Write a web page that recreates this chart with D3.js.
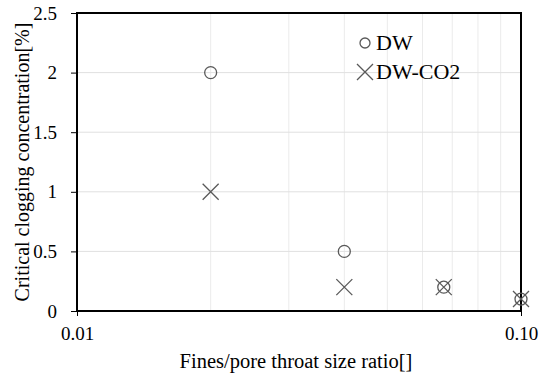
<!DOCTYPE html>
<html>
<head>
<meta charset="utf-8">
<script src="https://cdn.jsdelivr.net/npm/d3@7"></script>
<style>
  body { margin: 0; background: #fff; }
  svg text { font-family: "Liberation Serif", "Times New Roman", serif; fill: #000; }
</style>
</head>
<body>
<div id="chart"></div>
<script>
// data
var ratioDW = [0.02, 0.04, 0.067, 0.1];
var concDW = [2, 0.5, 0.2, 0.1];
var ratioCO2 = [0.02, 0.04, 0.067, 0.1];
var concCO2 = [1, 0.2, 0.2, 0.1];
var yTicks = [0, 0.5, 1, 1.5, 2, 2.5];
var xTickLabels = ["0.01", "0.10"];
var seriesNames = ["DW", "DW-CO2"];

var width = 544, height = 380;
var margin = {left: 77, right: 23, top: 13, bottom: 69};
var serif = "'Liberation Serif', 'Times New Roman', serif";

var svg = d3.select("#chart").append("svg")
    .attr("width", width)
    .attr("height", height);

var x = d3.scaleLog().domain([0.01, 0.1]).range([margin.left, width - margin.right]);
var y = d3.scaleLinear().domain([0, 2.5]).range([height - margin.bottom, margin.top]);

var markColor = "#595959";

// grid
var minor = d3.range(2, 10).map(function (d) { return d / 100; });
svg.append("g").selectAll("line.vg")
    .data(minor)
    .enter().append("line")
    .attr("x1", function (d) { return x(d); })
    .attr("x2", function (d) { return x(d); })
    .attr("y1", y(0))
    .attr("y2", y(2.5))
    .style("stroke", "#ebebeb")
    .style("stroke-width", 1);

svg.append("g").selectAll("line.hg")
    .data(yTicks.slice(1, -1))
    .enter().append("line")
    .attr("x1", x(0.01))
    .attr("x2", x(0.1))
    .attr("y1", function (d) { return y(d); })
    .attr("y2", function (d) { return y(d); })
    .style("stroke", "#e0e0e0")
    .style("stroke-width", 1);

// axes
var yAxis = d3.axisLeft(y).tickValues(yTicks).tickSize(6).tickPadding(14)
    .tickFormat(function (d) { return String(d); });
var gy = svg.append("g").attr("transform", "translate(" + margin.left + ",0)").call(yAxis)
    .attr("font-family", serif);
gy.select(".domain").remove();
gy.selectAll("line").style("stroke", "#000").style("stroke-width", 1);
gy.selectAll("text").style("font-size", "19px");

var xAxis = d3.axisBottom(x).tickValues([0.01, 0.1]).tickSize(5).tickPadding(11)
    .tickFormat(function (d, i) { return xTickLabels[i]; });
var gx = svg.append("g").attr("transform", "translate(0," + y(0) + ")").call(xAxis)
    .attr("font-family", serif);
gx.select(".domain").remove();
gx.selectAll("line").style("stroke", "#000").style("stroke-width", 1);
gx.selectAll("text").style("font-size", "19px");

// frame
svg.append("rect")
    .attr("x", x(0.01))
    .attr("y", y(2.5))
    .attr("width", x(0.1) - x(0.01))
    .attr("height", y(0) - y(2.5))
    .style("fill", "none")
    .style("stroke", "#000")
    .style("stroke-width", 2);

// markers
function crossPath(cx, cy, s) {
    return "M" + (cx - s) + "," + (cy - s) + "L" + (cx + s) + "," + (cy + s) +
        "M" + (cx - s) + "," + (cy + s) + "L" + (cx + s) + "," + (cy - s);
}

svg.append("g").selectAll("circle")
    .data(ratioDW)
    .enter().append("circle")
    .attr("cx", function (d) { return x(d); })
    .attr("cy", function (d, i) { return y(concDW[i]); })
    .attr("r", 6)
    .style("fill", "none")
    .style("stroke", markColor)
    .style("stroke-width", 1.3);

svg.append("g").selectAll("path")
    .data(ratioCO2)
    .enter().append("path")
    .attr("d", function (d, i) { return crossPath(x(d), y(concCO2[i]), 8); })
    .style("fill", "none")
    .style("stroke", markColor)
    .style("stroke-width", 1.3);

// legend
var leg = svg.append("g");
leg.append("circle")
    .attr("cx", 365).attr("cy", 43).attr("r", 5)
    .style("fill", "none").style("stroke", markColor).style("stroke-width", 1.3);
leg.append("path")
    .attr("d", crossPath(365, 72, 8))
    .style("fill", "none").style("stroke", markColor).style("stroke-width", 1.3);
leg.selectAll("text")
    .data(seriesNames)
    .enter().append("text")
    .attr("x", 376)
    .attr("y", function (d, i) { return 50 + i * 29; })
    .style("font-size", "22px")
    .text(function (d) { return d; });

// axis titles
svg.append("text")
    .attr("x", 296)
    .attr("y", 368)
    .attr("text-anchor", "middle")
    .style("font-size", "20.5px")
    .text("Fines/pore throat size ratio[]");

svg.append("text")
    .attr("transform", "translate(29," + ((y(0) + y(2.5)) / 2) + ") rotate(-90)")
    .attr("text-anchor", "middle")
    .style("font-size", "20px")
    .text("Critical clogging concentration[%]");
</script>
</body>
</html>
